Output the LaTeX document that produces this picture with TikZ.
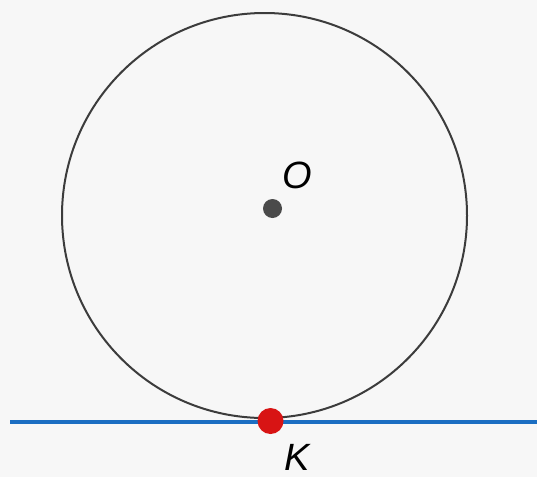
\documentclass[tikz,border=0pt]{standalone}
\usepackage{fontspec}
\setmainfont{Liberation Sans}
\definecolor{bg}{HTML}{F7F7F7}
\definecolor{circ}{HTML}{3C3C3C}
\definecolor{lineblue}{HTML}{1B6EC2}
\definecolor{dotred}{HTML}{D81414}
\definecolor{dotgray}{HTML}{4A4A4A}
\tikzset{
  lbl/.style={font=\fontsize{38}{38}\selectfont\itshape, inner sep=0pt},
}
\begin{document}
\begin{tikzpicture}[x=1pt,y=-1pt]
\fill[bg] (0,0) rectangle (537,477);
\useasboundingbox (0,0) rectangle (537,477);
\coordinate (c) at (264.5,215.5);
\draw[circ, line width=2pt] (c) circle[radius=202.5];
\coordinate (l1) at (10,422);
\coordinate (l2) at (537,422);
\draw[lineblue, line width=4pt] (l1) -- (l2);
\fill[dotgray] (272.5,208.5) circle[radius=9.5] node (o) {};
\fill[dotred] (270.5,421) circle[radius=13] node (k) {};
\node[lbl] (olbl) at (297,175) {O};
\node[lbl] (klbl) at (297.5,457) {K};
\end{tikzpicture}
\end{document}
